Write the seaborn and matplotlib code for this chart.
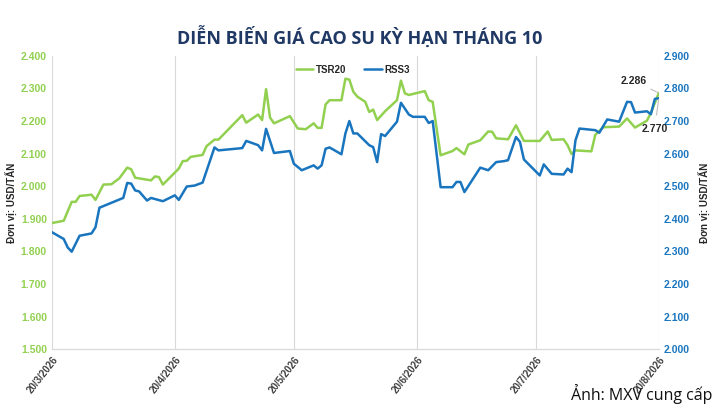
import pandas as pd
import matplotlib
matplotlib.use("Agg")
import matplotlib.pyplot as plt
import matplotlib.ticker as mticker
import seaborn as sns

# values (days after 20/3/2026, price USD/ton)
start = pd.Timestamp("2026-03-20")
tsr_days = [0, 3, 5, 6, 7, 10, 11, 13, 15, 17, 19, 20, 21, 25, 26, 27, 28, 32, 33, 34,
            35, 38, 39, 41, 42, 48, 49, 52, 53, 54, 55, 56, 60, 62, 64, 66, 67, 68, 69, 70,
            73, 74, 75, 76, 77, 79, 80, 81, 82, 84, 87, 88, 89, 90, 94, 95, 96, 98, 101, 102,
            104, 105, 108, 110, 111, 112, 115, 117, 119, 123, 125, 126, 129, 130, 131, 132,
            136, 137, 139, 143, 145, 147, 150, 151, 153]
tsr_vals = [1887, 1894, 1952, 1952, 1970, 1974, 1958, 2005, 2006, 2024, 2057, 2052, 2026,
            2018, 2030, 2028, 2005, 2054, 2077, 2078, 2090, 2096, 2123, 2143, 2143, 2218,
            2195, 2220, 2203, 2298, 2211, 2193, 2215, 2177, 2175, 2193, 2179, 2179, 2251,
            2264, 2264, 2330, 2327, 2290, 2275, 2259, 2228, 2235, 2203, 2230, 2264, 2324,
            2285, 2280, 2292, 2264, 2259, 2095, 2108, 2117, 2098, 2128, 2141, 2168, 2167,
            2147, 2144, 2187, 2139, 2139, 2168, 2142, 2144, 2126, 2099, 2110, 2107, 2158,
            2181, 2183, 2208, 2180, 2201, 2225, 2286]

rss_days = [0, 3, 4, 5, 7, 10, 11, 12, 14, 18, 19, 20, 21, 22, 24, 25, 28, 31, 32, 34,
            36, 38, 41, 42, 48, 49, 52, 53, 54, 56, 60, 61, 63, 66, 67, 68, 69, 70, 73, 74,
            75, 76, 77, 80, 81, 82, 83, 84, 87, 88, 90, 91, 94, 95, 96, 98, 101, 102, 103,
            104, 108, 110, 112, 114, 115, 117, 118, 119, 123, 124, 126, 129, 130, 131, 132,
            133, 137, 138, 140, 143, 145, 146, 147, 150, 151, 152, 153]
rss_vals = [2359, 2338, 2312, 2299, 2348, 2355, 2374, 2434, 2444, 2464, 2510, 2508, 2487,
            2484, 2456, 2464, 2454, 2472, 2458, 2499, 2502, 2511, 2619, 2610, 2617, 2639,
            2626, 2610, 2676, 2602, 2608, 2569, 2549, 2564, 2554, 2564, 2615, 2619, 2598,
            2662, 2700, 2662, 2662, 2626, 2620, 2574, 2660, 2654, 2698, 2756, 2720, 2713,
            2713, 2694, 2700, 2497, 2497, 2513, 2513, 2482, 2557, 2549, 2574, 2577, 2580,
            2651, 2636, 2582, 2533, 2567, 2538, 2536, 2554, 2543, 2641, 2677, 2672, 2664,
            2705, 2698, 2759, 2758, 2726, 2730, 2721, 2768, 2770]

tick_dates = ["2026-03-20", "2026-04-20", "2026-05-20", "2026-06-20", "2026-07-20", "2026-08-20"]

tsr = pd.DataFrame({"date": start + pd.to_timedelta(tsr_days, unit="D"), "price": tsr_vals})
rss = pd.DataFrame({"date": start + pd.to_timedelta(rss_days, unit="D"), "price": rss_vals})

sns.set_style("white")
plt.rcParams["font.family"] = ["Liberation Sans", "DejaVu Sans"]

green = "#92d050"
blue = "#1a75bf"

fig = plt.figure(figsize=(7.2, 4.05), dpi=100)
ax = fig.add_axes([0.072, 0.138, 0.843, 0.724])
ax2 = ax.twinx()

sns.lineplot(data=tsr, x="date", y="price", ax=ax, color=green, linewidth=1.8, label="TSR20", legend=False)
sns.lineplot(data=rss, x="date", y="price", ax=ax2, color=blue, linewidth=1.8, label="RSS3", legend=False)

ax.set_ylim(1500, 2400)
ax2.set_ylim(2000, 2900)
ax.set_yticks(range(1500, 2401, 100))
ax2.set_yticks(range(2000, 2901, 100))
fmt = mticker.FuncFormatter(lambda v, p: f"{v / 1000:.3f}")
ax.yaxis.set_major_formatter(fmt)
ax2.yaxis.set_major_formatter(fmt)

ticks = pd.to_datetime(tick_dates)
ax.set_xlim(ticks[0], ticks[-1])
ax.set_xticks(ticks)
ax.set_xticklabels([f"{d.day}/{d.month}/{d.year}" for d in ticks], rotation=52, ha="right",
                   rotation_mode="anchor", fontsize=7, fontweight="bold", color="#404040")
ax.tick_params(axis="x", length=0, pad=4)
ax.tick_params(axis="y", length=0, labelsize=7.5, labelcolor=green)
ax2.tick_params(axis="y", length=0, labelsize=7.5, labelcolor=blue)
for t in ax.get_yticklabels() + ax2.get_yticklabels():
    t.set_fontweight("bold")

ax.grid(axis="x", color="#d9d9d9", linewidth=0.8)
ax.grid(axis="y", visible=False)
ax2.grid(False)
for a in (ax, ax2):
    for s in ("top", "left", "right"):
        a.spines[s].set_visible(False)
    a.spines["bottom"].set_color("#d9d9d9")

ax.set_xlabel("")
ax.set_ylabel("Đơn vị: USD/TẤN", fontsize=7, fontweight="bold", color="#262626", labelpad=3)
ax2.set_ylabel("Đơn vị: USD/TẤN", fontsize=7, fontweight="bold", color="#262626", labelpad=6)

h1, l1 = ax.get_legend_handles_labels()
h2, l2 = ax2.get_legend_handles_labels()
leg = ax.legend(h1 + h2, l1 + l2, loc="upper center", bbox_to_anchor=(0.496, 1.0), ncol=2,
                frameon=False, fontsize=7, handlelength=1.8, handletextpad=0.3, columnspacing=1.8)
for t in leg.get_texts():
    t.set_fontweight("bold")
    t.set_color("#262626")

# end-of-series labels
last_t = tsr["date"].iloc[-1]
ax.annotate(f"{tsr_vals[-1] / 1000:.3f}", xy=(last_t, tsr_vals[-1]), xytext=(-9, 9),
            textcoords="offset points", ha="right", va="center", fontsize=7.5, fontweight="bold",
            color="#262626", arrowprops=dict(arrowstyle="-", color="#bfbfbf", lw=0.8,
                                             shrinkA=1, shrinkB=1))
ax2.annotate(f"{rss_vals[-1] / 1000:.3f}", xy=(last_t, rss_vals[-1]), xytext=(-3, -22),
             textcoords="offset points", ha="center", va="center", fontsize=7.5, fontweight="bold",
             color="#262626", arrowprops=dict(arrowstyle="-", color="#bfbfbf", lw=0.8,
                                              shrinkA=4, shrinkB=1))

fig.text(0.5, 0.908, "DIỄN BIẾN GIÁ CAO SU KỲ HẠN THÁNG 10", ha="center", va="center",
         fontsize=13, fontweight="bold", color="#1f3864", family=["Open Sans", "DejaVu Sans"])
fig.text(0.99, 0.003, "Ảnh: MXV cung cấp", ha="right", va="bottom", fontsize=11.5,
         color="#111111", family=["Open Sans", "DejaVu Sans"])

fig.savefig("out.png", dpi=100)
